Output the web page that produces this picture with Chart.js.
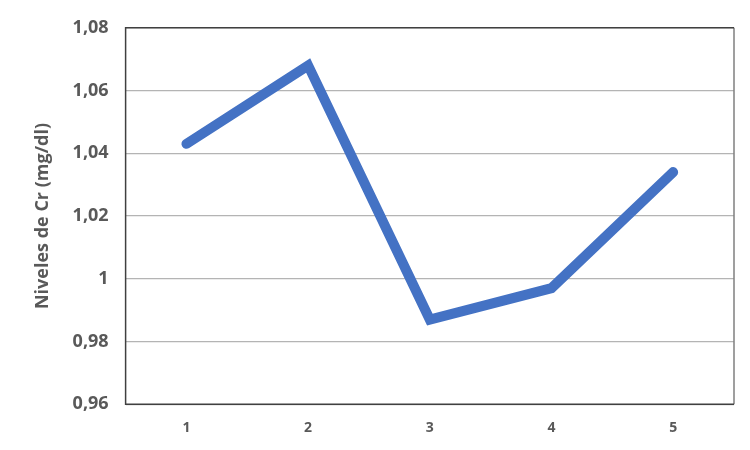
<!DOCTYPE html>
<html>
<head>
<meta charset="utf-8">
<script src="https://cdn.jsdelivr.net/npm/chart.js@4"></script>
<style>
    html, body { margin: 0; padding: 0; background: #ffffff; }
    #wrap { width: 750px; height: 450px; }
</style>
</head>
<body>
<div id="wrap"><canvas id="chart"></canvas></div>
<script>
// Data
const categories = ["1", "2", "3", "4", "5"];
const crLevels = [1.043, 1.068, 0.987, 0.997, 1.034];
const yTicks = [0.96, 0.98, 1.0, 1.02, 1.04, 1.06, 1.08];

const FONT = "'Open Sans', Lato, sans-serif";
const textGray = "#595959";

// Draw the frame around the plot area
const frame = {
    id: "frame",
    afterDatasetsDraw(chart) {
        const { ctx, chartArea: a } = chart;
        ctx.save();
        ctx.lineWidth = 1.5;
        ctx.strokeStyle = "#7f7f7f";
        ctx.beginPath();
        ctx.moveTo(a.right, a.top);
        ctx.lineTo(a.right, a.bottom);
        ctx.stroke();
        ctx.strokeStyle = "#404040";
        ctx.beginPath();
        ctx.moveTo(a.right, a.top);
        ctx.lineTo(a.left, a.top);
        ctx.lineTo(a.left, a.bottom);
        ctx.lineTo(a.right, a.bottom);
        ctx.stroke();
        ctx.restore();
    },
};

new Chart(document.getElementById("chart"), {
    type: "line",
    data: {
        labels: categories,
        datasets: [
            {
                data: crLevels,
                borderColor: "#4472c4",
                borderWidth: 10,
                borderCapStyle: "round",
                borderJoinStyle: "miter",
                pointRadius: 0,
                tension: 0,
                fill: false,
            },
        ],
    },
    options: {
        responsive: true,
        maintainAspectRatio: false,
        animation: false,
        layout: { padding: { top: 15, right: 16, bottom: 7, left: 28 } },
        plugins: {
            legend: { display: false },
            tooltip: { enabled: false },
        },
        scales: {
            x: {
                offset: true,
                grid: { display: false },
                border: { display: false },
                ticks: {
                    color: textGray,
                    padding: 7,
                    font: { family: FONT, size: 14, weight: "bold" },
                },
            },
            y: {
                min: 0.96,
                max: 1.08,
                afterBuildTicks(axis) {
                    axis.ticks = yTicks.map((v) => ({ value: v }));
                },
                grid: { color: "#b4b4b4", lineWidth: 1.2, drawTicks: false },
                border: { display: false },
                ticks: {
                    color: textGray,
                    padding: 17,
                    font: { family: FONT, size: 18, weight: "bold" },
                    callback: (v) => String(Math.round(v * 100) / 100).replace(".", ","),
                },
                title: {
                    display: true,
                    text: "Niveles de Cr (mg/dl)",
                    color: textGray,
                    padding: { bottom: 2 },
                    font: { family: FONT, size: 18, weight: "bold" },
                },
            },
        },
    },
    plugins: [frame],
});
</script>
</body>
</html>
